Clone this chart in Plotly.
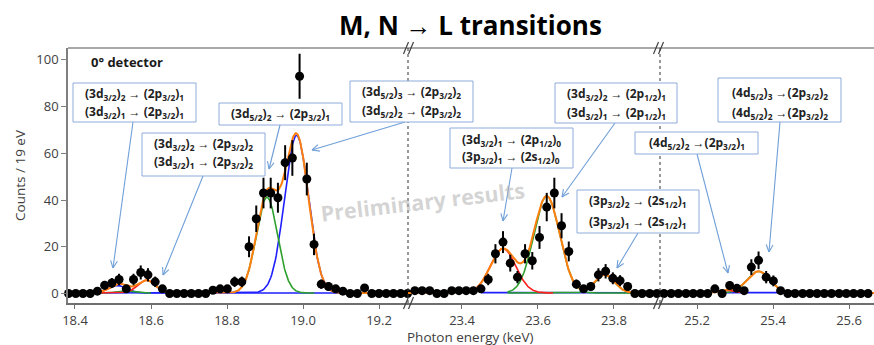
import numpy as np
import plotly.graph_objects as go

# ---------------- data ----------------
# segment 1 : 18.38 - 19.28 keV
e1 = [18.383, 18.402, 18.421, 18.440, 18.459, 18.478, 18.497, 18.516, 18.535, 18.554,
      18.573, 18.592, 18.611, 18.630, 18.649, 18.668, 18.687, 18.706, 18.725, 18.744,
      18.763, 18.782, 18.801, 18.820, 18.839, 18.858, 18.877, 18.896, 18.915, 18.934,
      18.953, 18.972, 18.991, 19.010, 19.029, 19.048, 19.067, 19.086, 19.105, 19.124,
      19.143, 19.162, 19.181, 19.200, 19.219, 19.238, 19.257, 19.275]
c1 = [0, 0, 0, 0, 1, 3.5, 4.5, 6, 2, 6,
      9, 8, 5, 2, 0, 0, 0, 0, 0, 0,
      1.4, 2, 2, 5, 5, 20, 32, 43, 43, 41,
      56, 58, 93, 49, 21, 4, 3, 2, 1, 0,
      0, 2.4, 0, 0, 0, 0, 0, 0]
# segment 2 : 23.26 - 23.92 keV
e2 = [23.276, 23.295, 23.315, 23.334, 23.353, 23.373, 23.392, 23.411, 23.430, 23.450,
      23.469, 23.488, 23.508, 23.527, 23.546, 23.566, 23.585, 23.604, 23.623, 23.643,
      23.662, 23.681, 23.701, 23.720, 23.739, 23.759, 23.778, 23.797, 23.816, 23.836,
      23.855, 23.874, 23.894, 23.913]
c2 = [1.2, 1.2, 1.2, 0, 0, 1.2, 1.2, 1.2, 1.2, 2,
      6, 17, 22, 13, 7, 17, 14, 24, 37, 43,
      29, 18, 4, 2, 3, 8, 9.5, 6.5, 5.5, 3,
      0, 0, 0, 0]
# segment 3 : 25.10 - 25.67 keV
e3 = [25.113, 25.132, 25.151, 25.171, 25.190, 25.209, 25.228, 25.247, 25.266, 25.286,
      25.305, 25.324, 25.343, 25.362, 25.382, 25.401, 25.420, 25.439, 25.458, 25.478,
      25.497, 25.516, 25.535, 25.554, 25.574, 25.593, 25.612, 25.631, 25.650]
c3 = [0, 0, 0, 0, 0, 0, 0, 2, 0, 3.4,
      2.2, 1.2, 11.3, 14.2, 7, 5.4, 1.2, 0, 0, 0,
      0, 0, 0, 0, 0, 0, 0, 0, 0]

# fitted gaussian components: centre (keV), amplitude (counts), sigma (keV), window
red_c = [18.588, 23.508, 25.280]
red_a = [5.5, 19.0, 1.2]
red_s = [0.023, 0.0335, 0.020]
red_w = [(18.45, 18.67), (23.42, 23.64), (25.25, 25.33)]

green_c = [18.530, 18.905, 23.623, 23.775, 25.362]
green_a = [1.0, 41.0, 41.5, 7.8, 9.3]
green_s = [0.020, 0.028, 0.034, 0.026, 0.030]
green_w = [(18.47, 18.60), (18.82, 19.03), (23.52, 23.87), (23.52, 23.87), (25.27, 25.43)]

blue_c = [18.512, 18.983, 23.650, 25.350]
blue_a = [3.2, 67.5, 0.4, 0.3]
blue_s = [0.023, 0.0315, 0.150, 0.080]
blue_w = [(18.45, 19.16), (18.45, 19.16), (23.45, 23.87), (25.26, 25.43)]

ticks1 = [18.4, 18.6, 18.8, 19.0, 19.2]
ticks2 = [23.4, 23.6, 23.8]
ticks3 = [25.2, 25.4, 25.6]
yticks = [0, 20, 40, 60, 80, 100]

range1 = [18.3816, 19.2763]
range2 = [23.2579, 23.9211]
range3 = [25.1026, 25.6658]

# ---------------- geometry helpers (page pixels -> paper) ----------------
W_FIG, H_FIG = 874, 345
L, R, T, B = 68, 874, 48, 303
PW, PH = R - L, B - T


def PX(x):
    return (x - L) / PW


def PY(y):
    return (B - y) / PH


d1 = PX(408)
d2 = PX(660)

ORANGE = "#ff7f0e"
GREEN = "#2ca02c"
BLUE = "#1f1fff"
RED = "#ff2020"


def gauss(x, c, a, s):
    return a * np.exp(-(x - c) ** 2 / (2 * s ** 2))


segs = [
    (e1, c1, range1, "x"),
    (e2, c2, range2, "x2"),
    (e3, c3, range3, "x3"),
]

fig = go.Figure()


def comp_traces(cs, as_, ss, ws, color, xr, axis):
    for c, a, s, w in zip(cs, as_, ss, ws):
        if not (xr[0] <= c <= xr[1]):
            continue
        xx = np.linspace(w[0], w[1], 300)
        yy = gauss(xx, c, a, s) + 0.2
        fig.add_trace(go.Scatter(x=xx, y=yy, mode="lines", xaxis=axis, yaxis="y",
                                 line=dict(color=color, width=1.6), hoverinfo="skip"))


for e, c, xr, axis in segs:
    comp_traces(blue_c, blue_a, blue_s, blue_w, BLUE, xr, axis)
    comp_traces(green_c, green_a, green_s, green_w, GREEN, xr, axis)
    comp_traces(red_c, red_a, red_s, red_w, RED, xr, axis)
    xx = np.linspace(xr[0], xr[1], 600)
    tot = np.full_like(xx, 0.2)
    for cs, as_, ss in [(blue_c, blue_a, blue_s), (green_c, green_a, green_s), (red_c, red_a, red_s)]:
        for cc, aa, sg in zip(cs, as_, ss):
            if xr[0] <= cc <= xr[1]:
                if sg < 0.06:
                    tot = tot + gauss(xx, cc, aa, sg)
    fig.add_trace(go.Scatter(x=xx, y=tot, mode="lines", xaxis=axis, yaxis="y",
                             line=dict(color=ORANGE, width=2), hoverinfo="skip"))

for e, c, xr, axis in segs:
    err = np.sqrt(np.array(c, dtype=float))
    fig.add_trace(go.Scatter(x=e, y=c, mode="markers", xaxis=axis, yaxis="y",
                             marker=dict(color="black", size=9),
                             error_y=dict(type="data", array=err, visible=True,
                                          color="black", thickness=2, width=0),
                             cliponaxis=False))

axis_common = dict(showline=True, linecolor="#6f6f6f", linewidth=2, ticks="outside",
                   ticklen=4, tickcolor="#6f6f6f", showgrid=False, zeroline=False,
                   tickfont=dict(family="Open Sans", size=13, color="#404040"), anchor="y")

fig.update_layout(
    width=W_FIG, height=H_FIG,
    margin=dict(l=L, r=W_FIG - R, t=T, b=H_FIG - B),
    plot_bgcolor="white", paper_bgcolor="white", showlegend=False,
    xaxis=dict(domain=[0, d1], range=range1, tickvals=ticks1,
               ticktext=[f"{t:.1f}" for t in ticks1], **axis_common),
    xaxis2=dict(domain=[d1, d2], range=range2, tickvals=ticks2,
                ticktext=[f"{t:.1f}" for t in ticks2], **axis_common),
    xaxis3=dict(domain=[d2, 1], range=range3, tickvals=ticks3,
                ticktext=[f"{t:.1f}" for t in ticks3], **axis_common),
    yaxis=dict(range=[-4.07, 105.1], tickvals=yticks, showline=True, linecolor="#7f7f7f",
               linewidth=1.5, ticks="outside", ticklen=5, tickcolor="#7f7f7f",
               showgrid=False, zeroline=False,
               tickfont=dict(family="Open Sans", size=13, color="#404040"),
               title=dict(text="Counts / 19 eV", standoff=8,
                          font=dict(family="Open Sans", size=13.5, color="#404040"))),
)

shapes = []
# top frame
shapes.append(dict(type="line", xref="paper", yref="paper", x0=0, x1=1, y0=1, y1=1,
                   line=dict(color="#8c8c8c", width=1.5)))
# dashed separators
for xp in (408, 660):
    shapes.append(dict(type="line", xref="paper", yref="paper", x0=PX(xp), x1=PX(xp),
                       y0=0, y1=1, line=dict(color="#333333", width=1, dash="3px,3px")))
# break marks //
for xp in (409, 659):
    for yp in (B, T):
        for off in (-3, 2):
            shapes.append(dict(type="line", xref="paper", yref="paper",
                               x0=PX(xp + off - 2.5), y0=PY(yp + 6),
                               x1=PX(xp + off + 2.5), y1=PY(yp - 6),
                               line=dict(color="#404040", width=1.2)))

# label boxes (left, top, right, bottom) in page pixels, and their text lines
boxes = [
    ((73, 83, 196, 122), [(93.5, "(3d<sub>3/2</sub>)<sub>2</sub> → (2p<sub>3/2</sub>)<sub>1</sub>"),
                          (111.5, "(3d<sub>3/2</sub>)<sub>1</sub> → (2p<sub>3/2</sub>)<sub>1</sub>")]),
    ((142, 133, 265, 176), [(144, "(3d<sub>3/2</sub>)<sub>2</sub> → (2p<sub>3/2</sub>)<sub>2</sub>"),
                            (162, "(3d<sub>3/2</sub>)<sub>1</sub> → (2p<sub>3/2</sub>)<sub>2</sub>")]),
    ((219, 103, 342, 125), [(114, "(3d<sub>5/2</sub>)<sub>2</sub> → (2p<sub>3/2</sub>)<sub>1</sub>")]),
    ((350, 81, 473, 122), [(92, "(3d<sub>5/2</sub>)<sub>3</sub> → (2p<sub>3/2</sub>)<sub>2</sub>"),
                           (111, "(3d<sub>5/2</sub>)<sub>2</sub> → (2p<sub>3/2</sub>)<sub>2</sub>")]),
    ((450, 128, 573, 168), [(139.5, "(3d<sub>3/2</sub>)<sub>1</sub> → (2p<sub>1/2</sub>)<sub>0</sub>"),
                            (157, "(3p<sub>3/2</sub>)<sub>1</sub> → (2s<sub>1/2</sub>)<sub>0</sub>")]),
    ((555, 83, 677, 123), [(93.5, "(3d<sub>3/2</sub>)<sub>2</sub> → (2p<sub>1/2</sub>)<sub>1</sub>"),
                           (112.5, "(3d<sub>3/2</sub>)<sub>1</sub> → (2p<sub>1/2</sub>)<sub>1</sub>")]),
    ((635, 132, 758, 154), [(143, "(4d<sub>5/2</sub>)<sub>2</sub> →(2p<sub>3/2</sub>)<sub>1</sub>")]),
    ((718, 78, 841, 122), [(92.5, "(4d<sub>5/2</sub>)<sub>3</sub> →(2p<sub>3/2</sub>)<sub>2</sub>"),
                           (112.5, "(4d<sub>5/2</sub>)<sub>2</sub> →(2p<sub>3/2</sub>)<sub>2</sub>")]),
    ((577, 190, 699, 233), [(201, "(3p<sub>3/2</sub>)<sub>2</sub> → (2s<sub>1/2</sub>)<sub>1</sub>"),
                            (222, "(3p<sub>3/2</sub>)<sub>1</sub> → (2s<sub>1/2</sub>)<sub>1</sub>")]),
]
arrows = [((133, 122), (113, 268)), ((203, 176), (163, 275)), ((280, 125), (269, 169)),
          ((405, 122), (312, 150)), ((512, 168), (503, 221)), ((615, 123), (562, 197)),
          ((697, 154), (728, 273)), ((780, 122), (769, 252)), ((638, 233), (617, 268))]

ARROWC = "#6f9fd8"
for (tx, ty), (hx, hy) in arrows:
    shapes.append(dict(type="line", xref="paper", yref="paper", x0=PX(tx), y0=PY(ty),
                       x1=PX(hx), y1=PY(hy), line=dict(color=ARROWC, width=1.1)))
    dx, dy = tx - hx, ty - hy
    n = np.hypot(dx, dy)
    dx, dy = dx / n, dy / n
    for ang in (np.radians(25), -np.radians(25)):
        ax_ = dx * np.cos(ang) - dy * np.sin(ang)
        ay_ = dx * np.sin(ang) + dy * np.cos(ang)
        shapes.append(dict(type="line", xref="paper", yref="paper", x0=PX(hx), y0=PY(hy),
                           x1=PX(hx + 8 * ax_), y1=PY(hy + 8 * ay_),
                           line=dict(color=ARROWC, width=1.1)))

annotations = []
for (l, t, r, b), lines in boxes:
    shapes.append(dict(type="rect", xref="paper", yref="paper", x0=PX(l), x1=PX(r),
                       y0=PY(b), y1=PY(t), line=dict(color="#8eaadb", width=1),
                       fillcolor="white"))
    for yy, txt in lines:
        annotations.append(dict(xref="paper", yref="paper", x=PX((l + r) / 2), y=PY(yy),
                                text="<b>" + txt + "</b>", showarrow=False,
                                xanchor="center", yanchor="middle",
                                font=dict(family="Open Sans", size=12, color="#222222")))

annotations += [
    dict(xref="paper", yref="paper", x=PX(470), y=PY(25), text="<b>M, N → L transitions</b>",
         showarrow=False, xanchor="center", yanchor="middle",
         font=dict(family="Open Sans", size=26, color="black")),
    dict(xref="paper", yref="paper", x=PX(89), y=PY(62), text="<b>0° detector</b>",
         showarrow=False, xanchor="left", yanchor="middle",
         font=dict(family="Open Sans", size=13, color="#1a1a1a")),
    dict(xref="paper", yref="paper", x=PX(470), y=PY(337), text="Photon energy (keV)",
         showarrow=False, xanchor="center", yanchor="middle",
         font=dict(family="Open Sans", size=13.5, color="#404040")),
    dict(xref="paper", yref="paper", x=PX(422), y=PY(201), text="<b>Preliminary results</b>",
         showarrow=False, xanchor="center", yanchor="middle", textangle=-6.6,
         font=dict(family="Open Sans", size=21.5, color="rgba(175,175,175,0.55)")),
]

fig.update_layout(shapes=shapes, annotations=annotations)
fig.write_html("out.html")
